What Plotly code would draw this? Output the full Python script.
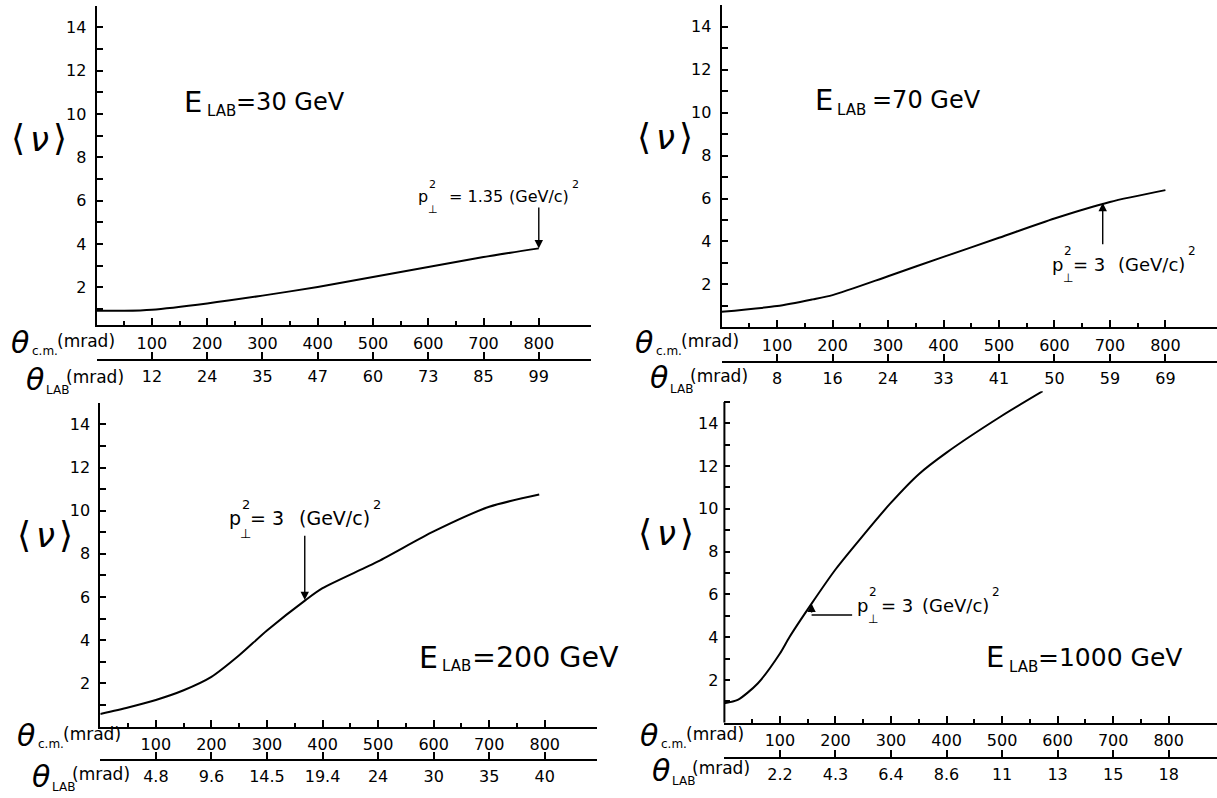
import plotly.graph_objects as go

W, H = 1217, 798

# ---------------- data ----------------
cm_ticks = [100, 200, 300, 400, 500, 600, 700, 800]
cm_minor = [50, 150, 250, 350, 450, 550, 650, 750]
y_ticks = [2, 4, 6, 8, 10, 12, 14]
y_minor = [1, 3, 5, 7, 9, 11, 13, 15]

lab_30 = ["12", "24", "35", "47", "60", "73", "85", "99"]
lab_70 = ["8", "16", "24", "33", "41", "50", "59", "69"]
lab_200 = ["4.8", "9.6", "14.5", "19.4", "24", "30", "35", "40"]
lab_1000 = ["2.2", "4.3", "6.4", "8.6", "11", "13", "15", "18"]

theta_30 = [0, 50, 100, 200, 300, 400, 500, 600, 700, 800]
nu_30 = [0.92, 0.92, 0.97, 1.26, 1.62, 2.02, 2.48, 2.94, 3.40, 3.80]

theta_70 = [0, 100, 164, 200, 300, 400, 500, 600, 700, 800]
nu_70 = [0.72, 0.99, 1.30, 1.50, 2.38, 3.28, 4.17, 5.07, 5.84, 6.39]

theta_200 = [0, 50, 100, 150, 200, 250, 300, 370, 400, 500, 600, 700, 790]
nu_200 = [0.58, 0.88, 1.23, 1.68, 2.3, 3.3, 4.45, 5.87, 6.41, 7.65, 9.04, 10.18, 10.75]

theta_1000 = [0, 24, 60, 100, 117, 157, 201, 247, 298, 350, 400, 499, 573]
nu_1000 = [0.91, 1.07, 1.84, 3.24, 4.0, 5.57, 7.2, 8.67, 10.23, 11.62, 12.63, 14.34, 15.5]

energies = ["30", "70", "200", "1000"]
pt_values = ["1.35", "3", "3", "3"]
# arrow (theta, nu at head, nu at tail) marking p_perp^2 on each curve
arrow_theta = [800, 687, 368, 157]
arrow_head = [3.80, 5.80, 5.86, 5.57]
arrow_tail = [5.80, 3.75, 8.95, 5.04]
leader_end_theta = 230  # end of the horizontal leader in the 1000 GeV panel

# ---------------- layout helpers ----------------
def dx(p0, p1):
    return [p0 / W, p1 / W]

def dy(top, bottom):
    return [1 - bottom / H, 1 - top / H]

FONT = "DejaVu Sans"


def txt(x, y, s, size, anchor="left", italic=False):
    """Plain text annotation placed in page pixels."""
    f = dict(family=FONT, size=size, color="black")
    if italic:
        f["style"] = "italic"
    return dict(x=x / W, y=1 - y / H, xref="paper", yref="paper", showarrow=False,
                xanchor=anchor, yanchor="middle", text=s, font=f, borderpad=0)


panels = [
    dict(xd=dx(96.6, 591.3), xr=[0, 895], yd=dy(5.7, 325.3), yr=[0.25, 15], lab_y=360,
         labs=lab_30, th=theta_30, nu=nu_30,
         e=dict(x=183, y=102, size=29, lab_x=206, lab_y=111, lab_size=15, right=346, tail_size=24),
         p=dict(x=417, y=197, eq=31, right=570, size=16),
         nu_c=(39, 138), cm=(10, 342), lab=(25, 379)),
    dict(xd=dx(721.6, 1217), xr=[0, 893], yd=dy(5.3, 327.3), yr=[0, 15], lab_y=361.7,
         labs=lab_70, th=theta_70, nu=nu_70,
         e=dict(x=814, y=100, size=29, lab_x=836, lab_y=110, lab_size=15, right=981.7, tail_size=24),
         p=dict(x=1050.6, y=264, eq=21, right=1186.4, size=18),
         nu_c=(665, 136), cm=(633.5, 342), lab=(649, 378)),
    dict(xd=dx(100.3, 597), xr=[0, 894], yd=dy(402.8, 726.5), yr=[0, 15], lab_y=760,
         labs=lab_200, th=theta_200, nu=nu_200,
         e=dict(x=418, y=657, size=30, lab_x=441, lab_y=666, lab_size=15, right=620, tail_size=28.5),
         p=dict(x=227.7, y=518.3, eq=21, right=371.2, size=19),
         nu_c=(45, 534), cm=(16, 735), lab=(31, 776)),
    dict(xd=dx(724.4, 1217), xr=[0, 887], yd=dy(391.2, 722.8), yr=[0, 15.5], lab_y=757.7,
         labs=lab_1000, th=theta_1000, nu=nu_1000,
         e=dict(x=985, y=657, size=29, lab_x=1008, lab_y=667, lab_size=15, right=1182.5, tail_size=25),
         p=dict(x=855.8, y=605, eq=24, right=989.6, size=18),
         nu_c=(666, 532), cm=(639.4, 735), lab=(651, 770)),
]

fig = go.Figure()
annotations = []
shapes = []
tickfont = dict(family=FONT, size=16, color="black")

for i, p in enumerate(panels):
    n = i + 1
    xa = "x" if n == 1 else f"x{n}"
    ya = "y" if n == 1 else f"y{n}"
    la = f"x{n + 4}"
    fig.add_trace(go.Scatter(x=p["th"], y=p["nu"], mode="lines", xaxis=xa, yaxis=ya,
                             line=dict(color="black", width=2, shape="spline", smoothing=0.7),
                             showlegend=False, hoverinfo="skip"))
    # empty trace registering the lab-angle axis
    fig.add_trace(go.Scatter(x=[], y=[], xaxis=la, yaxis=ya, showlegend=False))

    xkey = "xaxis" if n == 1 else f"xaxis{n}"
    ykey = "yaxis" if n == 1 else f"yaxis{n}"
    fig.layout[xkey] = dict(
        domain=p["xd"], range=p["xr"], anchor=ya, showgrid=False, zeroline=False,
        showline=True, linecolor="black", linewidth=2,
        tickmode="array", tickvals=cm_ticks, ticktext=[str(v) for v in cm_ticks],
        ticks="inside", ticklen=7, tickwidth=1.5, tickcolor="black",
        minor=dict(tickmode="array", tickvals=cm_minor, ticks="inside", ticklen=4,
                   tickwidth=1.5, tickcolor="black"),
        tickfont=tickfont, ticklabelstandoff=2, fixedrange=True,
    )
    fig.layout[ykey] = dict(
        domain=p["yd"], range=p["yr"], anchor=xa, showgrid=False, zeroline=False,
        showline=(n != 4), linecolor="black", linewidth=2,
        tickmode="array", tickvals=y_ticks, ticktext=[str(v) for v in y_ticks],
        ticks="inside", ticklen=6, tickwidth=1.5, tickcolor="black",
        minor=dict(tickmode="array", tickvals=y_minor, ticks="inside", ticklen=6,
                   tickwidth=1.5, tickcolor="black"),
        tickfont=tickfont, ticklabelstandoff=5, fixedrange=True,
    )
    fig.layout[f"xaxis{n + 4}"] = dict(
        overlaying=xa, anchor="free", position=1 - p["lab_y"] / H,
        domain=p["xd"], range=p["xr"], showgrid=False, zeroline=False,
        showline=True, linecolor="black", linewidth=2,
        tickmode="array", tickvals=cm_ticks, ticktext=p["labs"],
        ticks="inside", ticklen=7, tickwidth=1.5, tickcolor="black",
        tickfont=tickfont, ticklabelstandoff=2, fixedrange=True, side="bottom",
    )
    if n == 4:
        shapes.append(dict(type="line", xref="x4 domain", yref="y4", x0=0, x1=0,
                           y0=0, y1=15, line=dict(color="black", width=2)))

    # E_LAB = ... GeV
    e = p["e"]
    annotations.append(txt(e["x"], e["y"], "E", e["size"]))
    annotations.append(txt(e["lab_x"], e["lab_y"], "LAB", e["lab_size"]))
    annotations.append(txt(e["right"], e["y"], f"={energies[i]} GeV", e["tail_size"], anchor="right"))

    # p_perp^2 = ... (GeV/c)^2
    q = p["p"]
    s = q["size"]
    small = round(s * 0.68)
    annotations.append(txt(q["x"], q["y"], "p", s))
    annotations.append(txt(q["x"] + 0.68 * s, q["y"] - 0.75 * s, "2", small))
    annotations.append(txt(q["x"] + 0.62 * s, q["y"] + 0.8 * s, "⊥", small))
    annotations.append(txt(q["x"] + q["eq"], q["y"], f"= {pt_values[i]}", s))
    annotations.append(txt(q["right"], q["y"], "(GeV/c)", s, anchor="right"))
    annotations.append(txt(q["right"] + 1, q["y"] - 0.75 * s, "2", small))

    # arrow to the curve
    annotations.append(dict(
        x=arrow_theta[i], y=arrow_head[i], ax=arrow_theta[i], ay=arrow_tail[i],
        xref=xa, yref=ya, axref=xa, ayref=ya, text=" ", showarrow=True,
        arrowhead=2, arrowsize=1.2, arrowwidth=1.4, arrowcolor="black",
        font=dict(family=FONT, size=2)))
    if n == 4:
        shapes.append(dict(type="line", xref="x4", yref="y4", x0=arrow_theta[i],
                           x1=leader_end_theta, y0=arrow_tail[i], y1=arrow_tail[i],
                           line=dict(color="black", width=1.4)))

    # <nu> label
    nx, ny = p["nu_c"]
    annotations.append(txt(nx - 21, ny, "⟨", 36, anchor="center"))
    annotations.append(txt(nx, ny + 1, "ν", 34, anchor="center", italic=True))
    annotations.append(txt(nx + 21, ny, "⟩", 36, anchor="center"))

    # theta_c.m.(mrad) and theta_LAB(mrad)
    cx, cy = p["cm"]
    annotations.append(txt(cx, cy, "θ", 30, italic=True))
    annotations.append(txt(cx + 21, cy + 9, "c.m.", 12))
    annotations.append(txt(cx + 46, cy - 1, "(mrad)", 17))
    lx, ly = p["lab"]
    annotations.append(txt(lx, ly, "θ", 30, italic=True))
    annotations.append(txt(lx + 20, ly + 11, "LAB", 12))
    annotations.append(txt(lx + 40, ly - 2, "(mrad)", 17))

fig.update_layout(
    width=W, height=H, margin=dict(l=0, r=0, t=0, b=0),
    paper_bgcolor="white", plot_bgcolor="white",
    annotations=annotations, shapes=shapes, showlegend=False,
    font=dict(family=FONT, color="black"),
)

fig.write_html("out.html", config={"displayModeBar": False},
               post_script="document.body.style.margin='0';document.body.style.padding='0';document.body.style.overflow='hidden';")
